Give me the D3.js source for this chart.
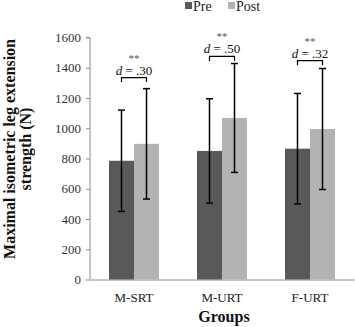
<!DOCTYPE html>
<html><head><meta charset="utf-8">
<script src="https://cdn.jsdelivr.net/npm/d3@7/dist/d3.min.js"></script>
<style>body{margin:0;background:#fff}svg{display:block}text{font-family:"Liberation Serif","Times New Roman",serif}</style>
</head><body><svg id="c" width="355" height="327"></svg>
<script>
const groups = ["M-SRT", "M-URT", "F-URT"];
const series = ["Pre", "Post"];
const preMean = [785, 850, 865];
const preSD = [335, 345, 365];
const postMean = [897, 1068, 995];
const postSD = [365, 360, 400];
const effectLabels = [".30", ".50", ".32"];
const bracketLevel = [1335, 1475, 1447];
const yTicks = [0, 200, 400, 600, 800, 1000, 1200, 1400, 1600];
const colors = ["#595959", "#b3b3b3"];

const svg = d3.select("#c");
const x0 = d3.scaleBand().domain(groups).range([90, 354]).paddingInner(0).paddingOuter(0);
const x1 = d3.scaleBand().domain(series).range([x0.bandwidth()/2 - 25, x0.bandwidth()/2 + 25]);
const y = d3.scaleLinear().domain([0, 1600]).range([279.5, 37.5]);

// y axis
const ya = svg.append("g").attr("transform", "translate(90,0)")
  .call(d3.axisLeft(y).tickValues(yTicks).tickFormat(d3.format("d")).tickSize(4).tickPadding(5));
ya.selectAll("path,line").attr("stroke", "#8c8c8c");
ya.select(".domain").attr("d", `M-4,${y(1600)}H0V${y(0)}`);
ya.selectAll("text").attr("font-size", 13).attr("fill", "#333").attr("font-family", "Liberation Serif");

// x axis
const xa = svg.append("g").attr("transform", `translate(0,${y(0)})`)
  .call(d3.axisBottom(x0).tickSize(0).tickPadding(13));
xa.select(".domain").attr("stroke", "#8c8c8c");
xa.selectAll("text").attr("font-size", 13).attr("fill", "#222").attr("font-family", "Liberation Serif");

const data = groups.map((g, i) => ({g, vals: [
  {s: "Pre", m: preMean[i], sd: preSD[i]},
  {s: "Post", m: postMean[i], sd: postSD[i]}]}));

const gg = svg.selectAll(".grp").data(data).join("g")
  .attr("transform", d => `translate(${x0(d.g)},0)`);
gg.selectAll("rect").data(d => d.vals).join("rect")
  .attr("x", d => x1(d.s)).attr("width", x1.bandwidth())
  .attr("y", d => y(d.m)).attr("height", d => y(0) - y(d.m))
  .attr("fill", (d, i) => colors[i]);

// error bars
gg.selectAll(".eb").data(d => d.vals).join("g").each(function(d) {
  const cx = x1(d.s) + x1.bandwidth()/2;
  const g = d3.select(this);
  g.append("line").attr("x1", cx).attr("x2", cx).attr("y1", y(d.m + d.sd)).attr("y2", y(d.m - d.sd))
    .attr("stroke", "#000").attr("stroke-width", 1.5);
  [d.m + d.sd, d.m - d.sd].forEach(v => g.append("line")
    .attr("x1", cx - 3.5).attr("x2", cx + 3.5).attr("y1", y(v)).attr("y2", y(v))
    .attr("stroke", "#000").attr("stroke-width", 1.5));
});

// brackets and annotations
gg.each(function(d, i) {
  const g = d3.select(this);
  const a = x1("Pre") + x1.bandwidth()/2, b = x1("Post") + x1.bandwidth()/2;
  const by = y(bracketLevel[i]);
  g.append("path").attr("d", `M${a},${by + 4.5}V${by}H${b}V${by + 4.5}`)
    .attr("fill", "none").attr("stroke", "#000").attr("stroke-width", 1.2);
  const t = g.append("text").attr("x", (a + b)/2).attr("y", by - 3)
    .attr("text-anchor", "middle").attr("font-size", 13).attr("fill", "#111");
  t.append("tspan").attr("font-style", "italic").text("d");
  t.append("tspan").text(" = " + effectLabels[i]);
  g.append("text").attr("x", (a + b)/2).attr("y", by - 16)
    .attr("text-anchor", "middle").attr("font-size", 11).attr("fill", "#555").text("**");
});

// legend
const lg = svg.append("g");
const legX = [185, 228];
series.forEach((s, i) => {
  lg.append("rect").attr("x", legX[i]).attr("y", 2).attr("width", 7).attr("height", 7).attr("fill", colors[i]);
  lg.append("text").attr("x", legX[i] + 8).attr("y", 11).attr("font-size", 14).attr("fill", "#222").text(s);
});

// axis titles
const yt = svg.append("text").attr("transform", "translate(15,149) rotate(-90)")
  .attr("text-anchor", "middle").attr("font-size", 16).attr("font-weight", "bold").attr("fill", "#111");
yt.append("tspan").attr("x", 0).attr("dy", 0).text("Maximal isometric leg extension");
yt.append("tspan").attr("x", 0).attr("dy", 16).text("strength (N)");
svg.append("text").attr("x", 224).attr("y", 322).attr("text-anchor", "middle")
  .attr("font-size", 16).attr("font-weight", "bold").attr("fill", "#111").text("Groups");
</script></body></html>
